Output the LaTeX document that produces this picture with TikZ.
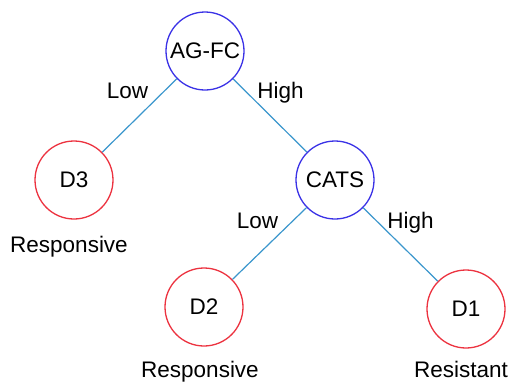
\documentclass[tikz,border=0pt]{standalone}
\usepackage{fontspec}
\setmainfont{Liberation Sans}
\definecolor{nodeblue}{HTML}{3B32E6}
\definecolor{nodered}{HTML}{EC3340}
\definecolor{edgeblue}{HTML}{3A96CC}
\begin{document}
\begin{tikzpicture}[x=1pt,y=-1pt,
  inner/.style={circle,draw=nodeblue,line width=1.3pt,minimum size=78pt,inner sep=0pt,font=\fontsize{22.5}{26}\selectfont},
  leaf/.style={circle,draw=nodered,line width=1.3pt,minimum size=78pt,inner sep=0pt,font=\fontsize{22.5}{26}\selectfont},
  lbl/.style={font=\fontsize{22.5}{26}\selectfont,inner sep=0pt,anchor=base},
  edge/.style={draw=edgeblue,line width=1.2pt}]
\useasboundingbox (0,0) rectangle (512,381);
\node[inner] (ag) at (205,51) {AG-FC};
\node[leaf] (d3) at (74,180) {D3};
\node[inner] (cats) at (335,180) {CATS};
\node[leaf] (d2) at (204,307) {D2};
\node[leaf] (d1) at (466,309) {D1};
\draw[edge] (ag) -- (d3);
\draw[edge] (ag) -- (cats);
\draw[edge] (cats) -- (d2);
\draw[edge] (cats) -- (d1);
\node[lbl] (l1) at (127.5,98) {Low};
\node[lbl] (h1) at (280.5,98) {High};
\node[lbl] (l2) at (257.5,228) {Low};
\node[lbl] (h2) at (410.5,228) {High};
\node[lbl] (r3) at (69,252) {Responsive};
\node[lbl] (r2) at (200,377) {Responsive};
\node[lbl] (r1) at (461,377) {Resistant};
\end{tikzpicture}
\end{document}
